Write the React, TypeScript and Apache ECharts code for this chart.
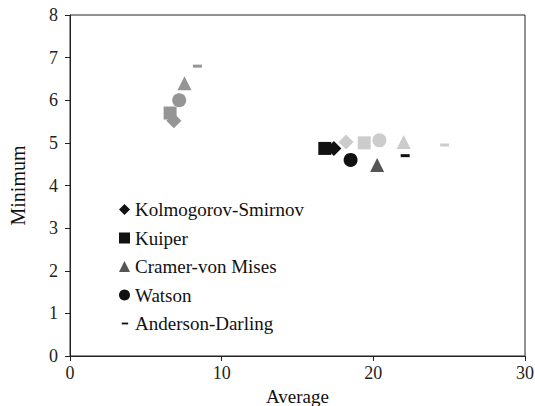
import React, { useEffect, useRef } from "react";
import * as echarts from "echarts";

const tests = ["Kolmogorov-Smirnov", "Kuiper", "Cramer-von Mises", "Watson", "Anderson-Darling"];
const symbols = ["diamond", "rect", "triangle", "circle", "rect"];
const symbolSizes: (number | number[])[] = [15, 13, 14, 14, [9, 3]];
const legendIcons = [
  "diamond",
  "rect",
  "triangle",
  "circle",
  "path://M0,0M3,5L10,5L10,7L3,7ZM12,12",
];

// group A (gray, left cluster)
const avgA = [6.85, 6.6, 7.55, 7.2, 8.4];
const minA = [5.52, 5.7, 6.4, 6.0, 6.8];
// group B (dark)
const avgB = [17.4, 16.8, 20.25, 18.5, 22.1];
const minB = [4.87, 4.87, 4.48, 4.6, 4.7];
// group C (light gray)
const avgC = [18.2, 19.4, 22.0, 20.4, 24.7];
const minC = [5.02, 5.0, 5.02, 5.06, 4.95];

const colorA = "#959595";
const colorsB = ["#111111", "#111111", "#555555", "#111111", "#111111"];
const colorC = "#cccccc";

const xTicks = [0, 10, 20, 30];
const yTicks = [0, 1, 2, 3, 4, 5, 6, 7, 8];

export default function App() {
  const ref = useRef<HTMLDivElement>(null);
  useEffect(() => {
    if (!ref.current) return;
    const chart = echarts.init(ref.current, undefined, { renderer: "svg" });
    const font = "Liberation Serif";
    const series = tests.map((name, i) => ({
      name,
      type: "scatter",
      symbol: symbols[i],
      symbolSize: symbolSizes[i],
      itemStyle: { color: colorsB[i], opacity: 1 },
      data: [
        { value: [avgA[i], minA[i]], itemStyle: { color: colorA } },
        { value: [avgC[i], minC[i]], itemStyle: { color: colorC } },
        { value: [avgB[i], minB[i]], itemStyle: { color: colorsB[i] } },
      ],
    }));
    chart.setOption({
      animation: false,
      textStyle: { fontFamily: font },
      grid: {
        left: 70,
        right: 10,
        top: 15,
        bottom: 50,
        outerBoundsMode: "none",
        containLabel: false,
        show: true,
        borderColor: "#222",
        borderWidth: 1,
      },
      legend: {
        orient: "vertical",
        left: 114,
        top: 195,
        itemWidth: 11,
        itemHeight: 11,
        itemGap: 9.5,
        textStyle: { fontFamily: font, fontSize: 19, color: "#111", lineHeight: 18 },
        data: tests.map((name, i) => ({ name, icon: legendIcons[i] })),
      },
      xAxis: {
        type: "value",
        min: xTicks[0],
        max: xTicks[xTicks.length - 1],
        interval: 10,
        name: "Average",
        nameLocation: "middle",
        nameGap: 25,
        nameTextStyle: { fontFamily: font, fontSize: 19, color: "#111", lineHeight: 20 },
        axisLine: { show: true, lineStyle: { color: "#222" } },
        axisTick: { show: true, length: 5, lineStyle: { color: "#222" } },
        axisLabel: { fontFamily: font, fontSize: 18, color: "#222", margin: 8 },
        splitLine: { show: false },
      },
      yAxis: {
        type: "value",
        min: yTicks[0],
        max: yTicks[yTicks.length - 1],
        interval: 1,
        name: "Minimum",
        nameLocation: "middle",
        nameGap: 42,
        nameRotate: 90,
        nameTextStyle: { fontFamily: font, fontSize: 20, color: "#111" },
        axisLine: { show: true, lineStyle: { color: "#222" } },
        axisTick: { show: true, length: 5, lineStyle: { color: "#222" } },
        axisLabel: { fontFamily: font, fontSize: 18, color: "#222", margin: 12 },
        splitLine: { show: false },
      },
      series,
    });
    return () => chart.dispose();
  }, []);
  return <div ref={ref} style={{ width: 535, height: 406, position: "absolute", left: 0, top: 0 }} />;
}
